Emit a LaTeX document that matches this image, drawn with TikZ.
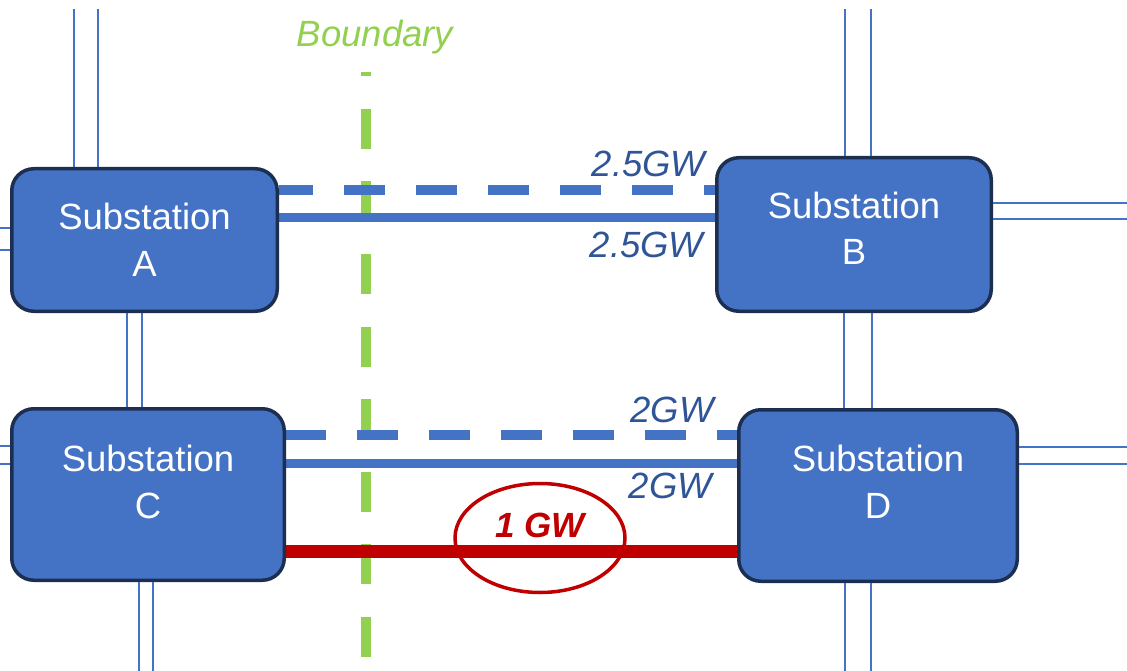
\documentclass[tikz,border=0pt]{standalone}
\usepackage{fontspec}
\setmainfont{Liberation Sans}
\usetikzlibrary{shapes.geometric,backgrounds}

\definecolor{stationblue}{HTML}{4472C4}
\definecolor{stationedge}{HTML}{1D2F50}
\definecolor{labelblue}{HTML}{2F5597}
\definecolor{limitred}{HTML}{C00000}
\definecolor{boundgreen}{HTML}{92D050}

% two centred lines, lifted by #2 from the box centre
\newcommand{\stationtext}[2]{\raisebox{#2}[0pt][0pt]{\begin{tabular}[b]{@{}c@{}}Substation\\#1\end{tabular}}}

\begin{document}
\begin{tikzpicture}[x=1pt,y=-1pt,
	station node/.style={draw=stationedge,fill=stationblue,line width=3.5pt,rounded corners=22pt,inner sep=0pt,text=white,font=\fontsize{36.5}{47}\selectfont},
	link line/.style={stationblue,line width=9pt},
	spare line/.style={stationblue,line width=10pt,dash pattern=on 41pt off 31pt},
	feeder line/.style={stationblue,line width=2pt},
	gw label/.style={labelblue,font=\fontsize{36.5}{44}\selectfont\itshape,inner sep=0pt,anchor=base}]
	\useasboundingbox (0,0) rectangle (1127,671);

	\node[station node,minimum width=265.5pt,minimum height=142.5pt] at (144.5,240) (A) {\stationtext{A}{-37pt}};
	\node[station node,minimum width=274.5pt,minimum height=153.5pt] at (854,234.5) (B) {\stationtext{B}{-30.5pt}};
	\node[station node,minimum width=272.5pt,minimum height=171.5pt] at (148,494.5) (C) {\stationtext{C}{-23.5pt}};
	\node[station node,minimum width=278.5pt,minimum height=171.5pt] at (878,495.5) (D) {\stationtext{D}{-22.5pt}};

	% ends of the outgoing feeders
	\coordinate (top edge) at (0,9);
	\coordinate (bottom edge) at (0,671);
	\coordinate (left edge) at (0,0);
	\coordinate (right edge) at (1127,0);

	\draw[feeder line] (A.north -| 74,0) -- (top edge -| 74,0);
	\draw[feeder line] (A.north -| 98,0) -- (top edge -| 98,0);
	\draw[feeder line] (A.west |- 0,228) -- (left edge |- 0,228);
	\draw[feeder line] (A.west |- 0,250) -- (left edge |- 0,250);
	\draw[feeder line] (A.south -| 127,0) -- (C.north -| 127,0);
	\draw[feeder line] (A.south -| 142,0) -- (C.north -| 142,0);
	\draw[feeder line] (C.west |- 0,446) -- (left edge |- 0,446);
	\draw[feeder line] (C.west |- 0,464) -- (left edge |- 0,464);
	\draw[feeder line] (C.south -| 139,0) -- (bottom edge -| 139,0);
	\draw[feeder line] (C.south -| 153,0) -- (bottom edge -| 153,0);
	\draw[feeder line] (B.north -| 845,0) -- (top edge -| 845,0);
	\draw[feeder line] (B.north -| 871,0) -- (top edge -| 871,0);
	\draw[feeder line] (B.east |- 0,203) -- (right edge |- 0,203);
	\draw[feeder line] (B.east |- 0,219) -- (right edge |- 0,219);
	\draw[feeder line] (B.south -| 844,0) -- (D.north -| 844,0);
	\draw[feeder line] (B.south -| 872,0) -- (D.north -| 872,0);
	\draw[feeder line] (D.east |- 0,447) -- (right edge |- 0,447);
	\draw[feeder line] (D.east |- 0,464) -- (right edge |- 0,464);
	\draw[feeder line] (D.south -| 845,0) -- (bottom edge -| 845,0);
	\draw[feeder line] (D.south -| 871,0) -- (bottom edge -| 871,0);

	\begin{scope}[on background layer]
		\coordinate (bound top) at (366,72);
		\coordinate (bound bottom) at (366,657);
		\draw[boundgreen,line width=10pt,dash pattern=on 40pt off 32.6pt] (bound bottom) -- (bound top);

		\draw[spare line,dash phase=7.25pt] (A.east |- 0,190) -- (B.west |- 0,190);
		\draw[link line] (A.east |- 0,218) -- (B.west |- 0,218);
		\draw[spare line,dash phase=1.25pt] (C.east |- 0,435) -- (D.west |- 0,435);
		\draw[link line] (C.east |- 0,463) -- (D.west |- 0,463);
		\draw[limitred,line width=13pt] (C.east |- 0,551) -- (D.west |- 0,551);
	\end{scope}

	\node[boundgreen,font=\fontsize{36.5}{44}\selectfont\itshape,inner sep=0pt,anchor=base] at (375,47) (bound label) {Boundary};

	\node[gw label] at (648.5,177) (ab spare) {2.5GW};
	\node[gw label] at (646.5,257) (ab main) {2.5GW};
	\node[gw label] at (672,422) (cd spare) {2GW};
	\node[gw label] at (670.5,498) (cd main) {2GW};

	\node[draw=limitred,line width=3.5pt,ellipse,minimum width=170pt,minimum height=109pt] at (540,538) (limit ring) {};
	\node[limitred,font=\fontsize{35}{42}\selectfont\bfseries\itshape,inner sep=0pt,anchor=base] at (540,537) (limit) {1 GW};
\end{tikzpicture}
\end{document}
